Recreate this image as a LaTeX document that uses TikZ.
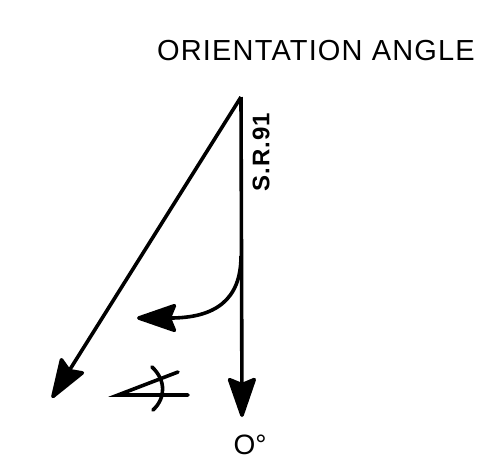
\documentclass[tikz,border=0pt]{standalone}
\usepackage{fontspec}
\setmainfont{Liberation Sans}
\newfontfamily\spacedfont[LetterSpace=4]{Liberation Sans}
\usetikzlibrary{arrows.meta}
\tikzset{
  ink/.style={line width=3.6pt, draw=black},
  bigarr/.style={ink, -{Stealth[length=44pt, width=30pt, inset=6pt, round]}},
  lbl/.style={font=\fontsize{28}{30}\selectfont, inner sep=0pt},
  srlbl/.style={font=\spacedfont\fontsize{24}{26}\selectfont\bfseries, inner sep=0pt},
}
\begin{document}
\begin{tikzpicture}[x=1pt, y=-1pt]
  \useasboundingbox (0,0) rectangle (486,469);
  \node[lbl, font=\spacedfont\fontsize{29}{31}\selectfont] (title) at (316,51) {ORIENTATION ANGLE};
  \coordinate (top) at (241,97);
  \coordinate (zero) at (242,417);
  \coordinate (far) at (52,398);
  \coordinate (bend) at (241,256);
  \coordinate (turn) at (137,318);
  \node[lbl, anchor=north] (deg) at (250,435) {O°};
  \node[srlbl, rotate=90] (sr) at (261,152) {S.R.91};
  % the two direction arrows
  \draw[bigarr] (top) -- (zero);
  \draw[bigarr] (top) -- (far);
  % turning arrow
  \draw[bigarr] (bend) .. controls (241,300) and (215,318) .. (turn);
  % angle sign
  \draw[ink, line cap=round] (188,395) -- (118,395) -- (178,372);
  \draw[ink, line cap=round] (152,367) .. controls (166,380) and (166,398) .. (153,410);
\end{tikzpicture}
\end{document}
